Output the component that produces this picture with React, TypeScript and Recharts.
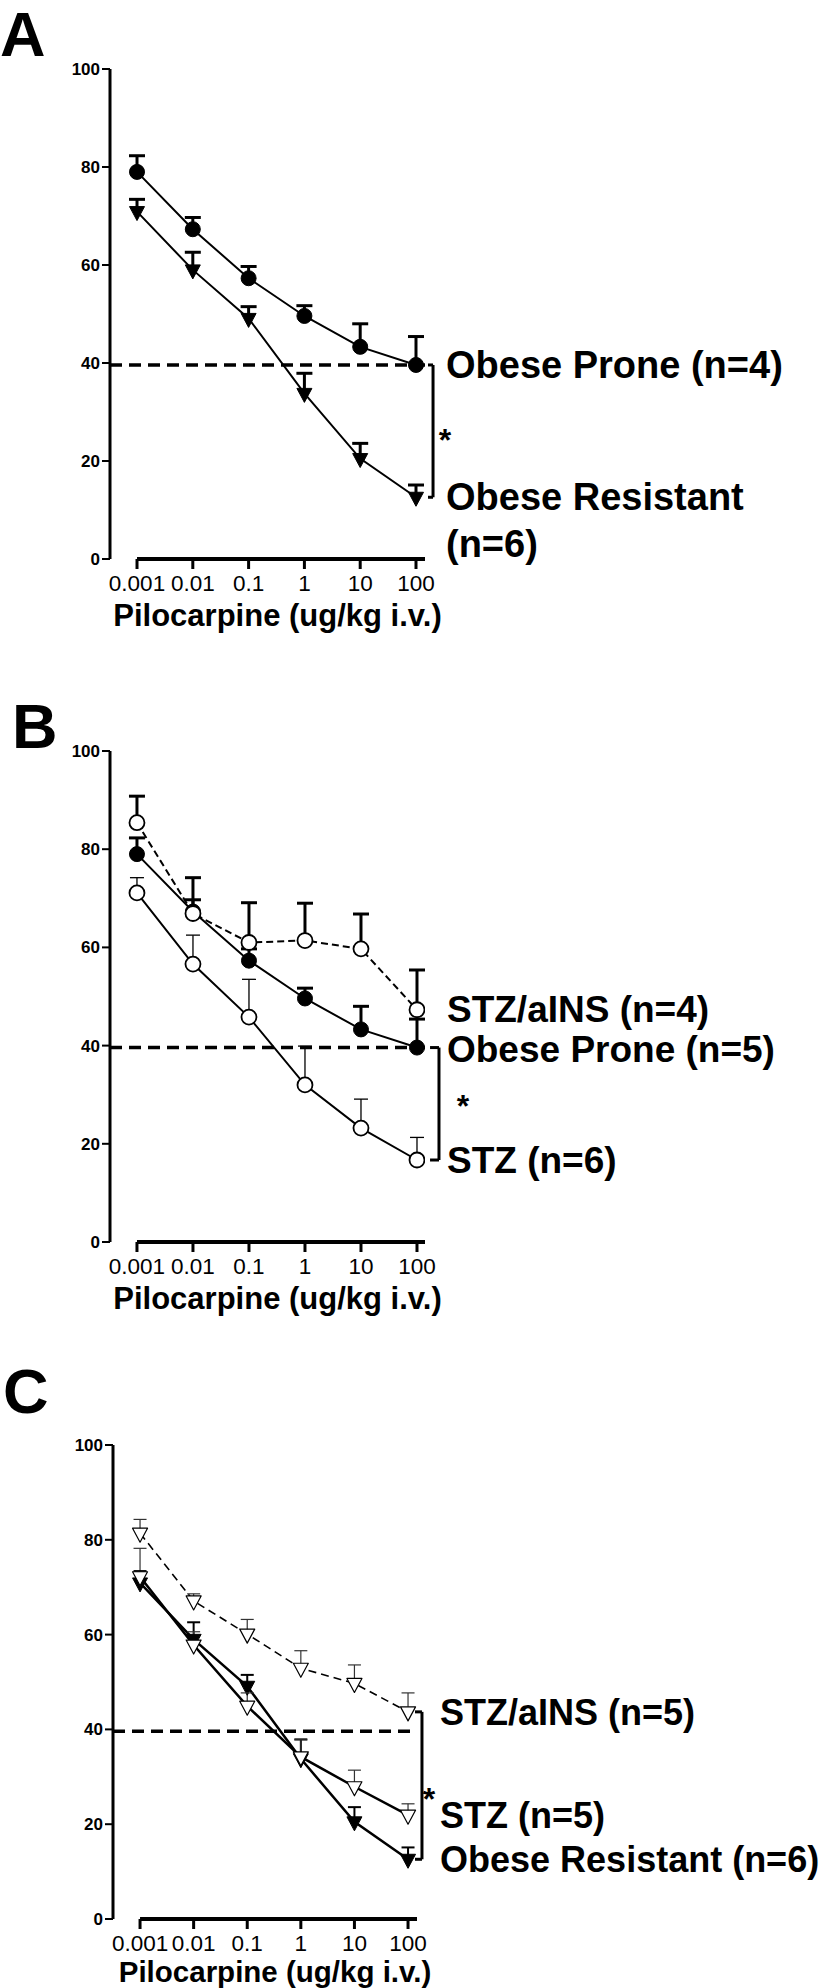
import React from "react";
import { ComposedChart, Line, XAxis, YAxis, ErrorBar, ReferenceLine, ReferenceDot } from "recharts";

const FONT = '"Liberation Sans", Arial, Helvetica, sans-serif';

// pilocarpine doses (ug/kg i.v.) and their tick labels
const doses = [0.001, 0.01, 0.1, 1, 10, 100];
const doseLabels = ["0.001", "0.01", "0.1", "1", "10", "100"];
const yTicks = [0, 20, 40, 60, 80, 100];

// % response, mean and SEM (up-only error bars)
const obeseProne = [79.0, 67.3, 57.3, 49.6, 43.3, 39.6];
const obeseProneSem = [3.3, 2.4, 2.4, 2.1, 4.7, 5.8];
const obeseResistant = [70.9, 59.0, 49.1, 33.8, 20.5, 12.6];
const obeseResistantSem = [2.5, 3.6, 2.4, 4.1, 3.1, 2.5];
const stzB = [71.1, 56.6, 45.8, 32.0, 23.2, 16.7];
const stzBSem = [3.1, 5.9, 7.7, 7.9, 5.9, 4.6];
const stzInsB = [85.4, 66.9, 61.0, 61.4, 59.7, 47.3];
const stzInsBSem = [5.4, 7.3, 8.1, 7.6, 7.1, 8.1];
const stzC = [72.2, 57.8, 44.9, 34.2, 27.9, 21.9];
const stzCSem = [6.0, 2.8, 2.8, 3.6, 3.5, 2.4];
const stzInsC = [81.4, 67.1, 60.1, 52.9, 49.7, 43.7];
const stzInsCSem = [2.9, 1.5, 3.1, 3.7, 3.9, 4.0];
const threshold = 39.6;

type Series = {
  key: string;
  values: number[];
  sem: number[];
  shape: "circle" | "triangle";
  filled: boolean;
  dash?: string;
  lineWidth: number;
  errWidth: number;
  capWidth: number;
  errColor?: string;
  markerStroke: number;
};

type SideLabel = { key: string; lines: string[]; dy?: number };

type PanelProps = {
  letter: string;
  letterLeft: number;
  letterTop: number;
  top: number;
  height: number;
  marginTop: number;
  plotH: number;
  axisH: number;
  yAxisW: number;
  plotRight: number;
  xDomain: [number, number];
  series: Series[];
  labels: SideLabel[];
  labelDx: number;
  labelSize: number;
  bracket: { from: string; to: string; x: number; stub: number; starDx: number; starDy: number };
  titleDx: number;
  titleDy: number;
  titleSize: number;
};

function buildRows(series: Series[]) {
  return doses.map((dose, i) => {
    const row: Record<string, any> = { dose };
    series.forEach((s) => {
      row[s.key] = s.values[i];
      row[s.key + "Err"] = [0, s.sem[i]];
      row[s.key + "Top"] = s.values[i] + s.sem[i];
    });
    return row;
  });
}

const makeDot = (s: Series) => (p: any) => {
  const { cx, cy, index } = p;
  const k = `d-${s.key}-${index}`;
  if (cx == null || cy == null) return <g key={k} />;
  const fill = s.filled ? "#000" : "#fff";
  if (s.shape === "circle") {
    return <circle key={k} cx={cx} cy={cy} r={7.5} fill={fill} stroke="#000" strokeWidth={s.markerStroke} />;
  }
  return (
    <path
      key={k}
      d={`M${cx - 7.5},${cy - 5}L${cx + 7.5},${cy - 5}L${cx},${cy + 9}Z`}
      fill={fill}
      stroke="#000"
      strokeWidth={s.markerStroke}
      strokeLinejoin="round"
    />
  );
};

const makeCap = (s: Series) => (p: any) => {
  const { cx, cy, index } = p;
  const k = `c-${s.key}-${index}`;
  if (cx == null || cy == null) return <g key={k} />;
  return (
    <line
      key={k}
      x1={cx - s.capWidth / 2}
      x2={cx + s.capWidth / 2}
      y1={cy}
      y2={cy}
      stroke={s.errColor ?? "#000"}
      strokeWidth={s.errWidth}
    />
  );
};

const note =
  (lines: string[], dx: number, dy: number, size: number, anchor: "start" | "middle" = "start") =>
  (props: any) => {
    const vb = props.viewBox || {};
    const x = (vb.x ?? 0) + (vb.width ?? 0) / 2 + dx;
    const y = (vb.y ?? 0) + (vb.height ?? 0) / 2 + dy;
    return (
      <text
        x={x}
        y={y}
        fontSize={size}
        fontWeight="bold"
        fontFamily={FONT}
        fill="#000"
        textAnchor={anchor}
        dominantBaseline="central"
      >
        {lines.map((t, i) => (
          <tspan key={i} x={x} dy={i === 0 ? 0 : size * 1.22}>
            {t}
          </tspan>
        ))}
      </text>
    );
  };

const axisTitle = (dx: number, dy: number, size: number) => (props: any) => {
  const vb = props.viewBox || {};
  return (
    <text
      x={(vb.x ?? 0) + (vb.width ?? 0) / 2 + dx}
      y={(vb.y ?? 0) + dy}
      fontSize={size}
      fontWeight="bold"
      fontFamily={FONT}
      fill="#000"
      textAnchor="middle"
      dominantBaseline="central"
    >
      Pilocarpine (ug/kg i.v.)
    </text>
  );
};

const DoseTick = (props: any) => {
  const { x, y, payload } = props;
  return (
    <text x={x} y={y} dy="0.71em" textAnchor="middle" fontSize={22.5} fontFamily={FONT} fill="#000">
      {doseLabels[doses.indexOf(payload.value)]}
    </text>
  );
};

function Panel(p: PanelProps) {
  const rows = buildRows(p.series);
  const width = 825;
  const margin = {
    top: p.marginTop,
    right: width - p.plotRight,
    left: 0,
    bottom: p.height - p.marginTop - p.plotH - p.axisH,
  };
  const last = doses.length - 1;
  const byKey: Record<string, Series> = {};
  p.series.forEach((s) => (byKey[s.key] = s));
  const hi = byKey[p.bracket.from].values[last];
  const lo = byKey[p.bracket.to].values[last];
  const b = p.bracket;

  return (
    <div style={{ position: "absolute", left: 0, top: p.top }}>
      <ComposedChart width={width} height={p.height} data={rows} margin={margin}>
        <XAxis
          dataKey="dose"
          type="number"
          scale="log"
          domain={p.xDomain}
          allowDataOverflow
          ticks={doses}
          interval={0}
          axisLine={false}
          tickLine={{ stroke: "#000", strokeWidth: 3 }}
          tickSize={10}
          tickMargin={6}
          height={p.axisH}
          tick={<DoseTick />}
          label={axisTitle(p.titleDx, p.titleDy, p.titleSize)}
        />
        <YAxis
          type="number"
          domain={[0, 100]}
          allowDataOverflow
          ticks={yTicks}
          interval={0}
          width={p.yAxisW}
          axisLine={{ stroke: "#000", strokeWidth: 3 }}
          tickLine={{ stroke: "#000", strokeWidth: 2 }}
          tickSize={8}
          tickMargin={2}
          tick={{ fontSize: 17, fontWeight: 700, fill: "#000", fontFamily: FONT }}
        />
        <ReferenceLine
          segment={[{ x: doses[0], y: 0 }, { x: p.xDomain[1], y: 0 }]}
          stroke="#000"
          strokeWidth={4}
          ifOverflow="visible"
        />
        <ReferenceLine y={threshold} stroke="#000" strokeWidth={3.5} strokeDasharray="12 7" />

        {p.series.map((s) => [
          <Line
            key={s.key}
            dataKey={s.key}
            stroke="#000"
            strokeWidth={s.lineWidth}
            strokeDasharray={s.dash}
            dot={makeDot(s)}
            activeDot={false}
            isAnimationActive={false}
            legendType="none"
          >
            <ErrorBar
              dataKey={s.key + "Err"}
              width={0}
              direction="y"
              stroke={s.errColor ?? "#000"}
              strokeWidth={s.errWidth}
            />
          </Line>,
          <Line
            key={s.key + "Top"}
            dataKey={s.key + "Top"}
            stroke="none"
            dot={makeCap(s)}
            activeDot={false}
            isAnimationActive={false}
            legendType="none"
          />,
        ])}

        <ReferenceLine segment={[{ x: b.x, y: hi }, { x: b.x, y: lo }]} stroke="#000" strokeWidth={3} ifOverflow="visible" />
        <ReferenceLine segment={[{ x: b.stub, y: hi }, { x: b.x, y: hi }]} stroke="#000" strokeWidth={3} ifOverflow="visible" />
        <ReferenceLine segment={[{ x: b.stub, y: lo }, { x: b.x, y: lo }]} stroke="#000" strokeWidth={3} ifOverflow="visible" />
        <ReferenceDot
          x={b.x}
          y={(hi + lo) / 2}
          r={0}
          fill="none"
          stroke="none"
          ifOverflow="visible"
          label={note(["*"], b.starDx, b.starDy, 32, "middle")}
        />

        {p.labels.map((l) => (
          <ReferenceDot
            key={"lab" + l.key}
            x={doses[last]}
            y={byKey[l.key].values[last]}
            r={0}
            fill="none"
            stroke="none"
            ifOverflow="visible"
            label={note(l.lines, p.labelDx, l.dy ?? 0, p.labelSize)}
          />
        ))}
      </ComposedChart>
      <div
        style={{
          position: "absolute",
          left: p.letterLeft,
          top: p.letterTop,
          fontSize: 63,
          fontWeight: "bold",
          lineHeight: 1,
          fontFamily: FONT,
        }}
      >
        {p.letter}
      </div>
    </div>
  );
}

const thick = { errWidth: 3, capWidth: 16 };

const seriesA: Series[] = [
  { key: "op", values: obeseProne, sem: obeseProneSem, shape: "circle", filled: true, lineWidth: 2, markerStroke: 1, ...thick },
  { key: "or", values: obeseResistant, sem: obeseResistantSem, shape: "triangle", filled: true, lineWidth: 2, markerStroke: 1, ...thick },
];

const seriesB: Series[] = [
  { key: "op", values: obeseProne, sem: obeseProneSem, shape: "circle", filled: true, lineWidth: 2, markerStroke: 1, ...thick },
  { key: "stz", values: stzB, sem: stzBSem, shape: "circle", filled: false, lineWidth: 2, markerStroke: 1.8, errWidth: 1.3, capWidth: 14 },
  { key: "ins", values: stzInsB, sem: stzInsBSem, shape: "circle", filled: false, dash: "7 4", lineWidth: 2, markerStroke: 1.8, ...thick },
];

const seriesC: Series[] = [
  { key: "or", values: obeseResistant, sem: obeseResistantSem, shape: "triangle", filled: true, lineWidth: 2.5, markerStroke: 1, errWidth: 2, capWidth: 13 },
  { key: "stz", values: stzC, sem: stzCSem, shape: "triangle", filled: false, lineWidth: 2.5, markerStroke: 1.2, errWidth: 1.2, capWidth: 13, errColor: "#333" },
  { key: "ins", values: stzInsC, sem: stzInsCSem, shape: "triangle", filled: false, dash: "8 5", lineWidth: 1.6, markerStroke: 1.2, errWidth: 1.2, capWidth: 13, errColor: "#333" },
];

export default function App() {
  return (
    <div style={{ position: "absolute", left: 0, top: 0, width: 825, height: 1988, background: "#fff", fontFamily: FONT }}>
      <Panel
        letter="A"
        letterLeft={0}
        letterTop={3}
        top={0}
        height={640}
        marginTop={69}
        plotH={490}
        axisH={70}
        yAxisW={110}
        plotRight={425}
        xDomain={[0.000328, 145]}
        series={seriesA}
        labels={[
          { key: "op", lines: ["Obese Prone (n=4)"] },
          { key: "or", lines: ["Obese Resistant", "(n=6)"] },
        ]}
        labelDx={30}
        labelSize={38}
        bracket={{ from: "op", to: "or", x: 202, stub: 164, starDx: 12, starDy: 9 }}
        titleDx={10}
        titleDy={56}
        titleSize={31}
      />
      <Panel
        letter="B"
        letterLeft={12}
        letterTop={-5}
        top={700}
        height={640}
        marginTop={51}
        plotH={491}
        axisH={70}
        yAxisW={110}
        plotRight={425}
        xDomain={[0.00033, 139]}
        series={seriesB}
        labels={[
          { key: "ins", lines: ["STZ/aINS (n=4)"], dy: -1 },
          { key: "op", lines: ["Obese Prone (n=5)"], dy: 1 },
          { key: "stz", lines: ["STZ (n=6)"] },
        ]}
        labelDx={30}
        labelSize={37}
        bracket={{ from: "op", to: "stz", x: 247, stub: 171, starDx: 24, starDy: 2 }}
        titleDx={10}
        titleDy={56}
        titleSize={31}
      />
      <Panel
        letter="C"
        letterLeft={3}
        letterTop={-30}
        top={1390}
        height={598}
        marginTop={55}
        plotH={474}
        axisH={65}
        yAxisW={113}
        plotRight={417}
        xDomain={[0.000313, 147]}
        series={seriesC}
        labels={[
          { key: "ins", lines: ["STZ/aINS (n=5)"] },
          { key: "stz", lines: ["STZ (n=5)"] },
          { key: "or", lines: ["Obese Resistant (n=6)"] },
        ]}
        labelDx={32}
        labelSize={36}
        bracket={{ from: "ins", to: "or", x: 182, stub: 135, starDx: 7, starDy: 13 }}
        titleDx={10}
        titleDy={52}
        titleSize={29.5}
      />
    </div>
  );
}
